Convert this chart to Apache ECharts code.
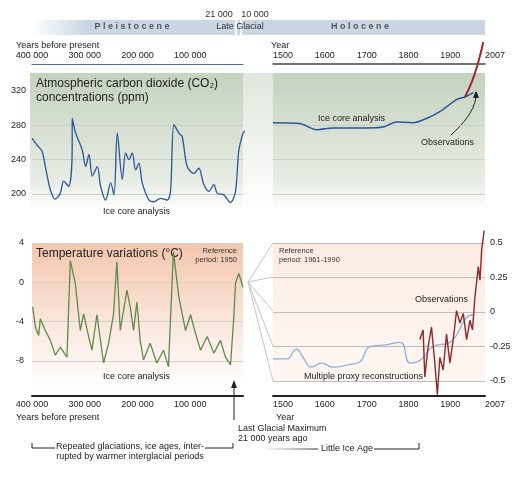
<!DOCTYPE html>
<html><head><meta charset="utf-8">
<script src="https://cdn.jsdelivr.net/npm/echarts@6/dist/echarts.min.js"></script>
<style>html,body{margin:0;padding:0;background:#fff}#c{width:530px;height:480px}</style>
</head><body><div id="c"></div>
<script>
// CO2, 400 000 years before present -> 0 (ppm)
const co2LongYears = [400000,390500,381000,374700,365200,355800,346300,340000,330500,324100,323500,317200,304600,298300,292000,285600,276200,269900,260400,250900,244600,238300,228800,222500,216200,209900,203600,197300,191000,178300,168900,156300,143700,137400,131000,121600,115300,105800,93200,83700,74200,64800,55300,49000,36400,23700,14200,7900,0];
const co2LongVals  = [265,257,250,232,205,194,201,215,209,242,288,271,251,232,246,221,232,209,193,213,199,271,217,248,240,248,228,236,213,193,191,195,193,203,281,271,267,232,224,230,211,203,211,201,199,190,203,251,271];
const co2GapYears = [0,-20000,-40000,-56900];
const co2GapVals  = [271,280,283,283];
// CO2 1500-2007 (ice core)
const co2Years = [1500,1564,1604,1644,1723,1763,1795,1835,1867,1899,1939,1959,1979];
const co2Vals  = [283,282,275,277,277,278,284,283,288,296,310,313,318];
const co2ObsYears = [1959,1975,1990,2003];
const co2ObsVals  = [313,330,352,377];
// Temperature, years before present (°C)
const tLongYears = [398700,393700,387400,384300,374700,365200,355800,346300,333700,327400,317900,308500,302200,292700,286400,276900,264300,254800,245400,239100,232700,220100,213800,207500,201200,194900,188600,176000,163400,150800,141300,131900,121600,108900,99500,90000,80600,67900,55300,42700,33200,23700,17400,14200,7900,0];
const tLongVals  = [-2.5,-4.5,-5.4,-3.7,-4.9,-5.9,-7.4,-6.6,-7.6,2.2,-0.1,-4.9,-3.2,-5.5,-6.9,-3.3,-8.2,-6.2,-3.2,2.1,-4.9,-0.8,-2.5,-4.9,-2.0,-5.9,-7.9,-6.2,-8.2,-6.9,-8.6,3.1,-1.5,-4.9,-3.3,-5.2,-6.9,-5.5,-7.2,-5.9,-7.6,-8.4,-3.5,-0.1,0.9,-0.5];
// Multiple proxy reconstructions 1500-2000 (°C rel. 1961-1990)
const proxyYears = [1500,1532,1556,1572,1592,1616,1644,1684,1708,1732,1764,1804,1828,1852,1883,1923,1963,1979];
const proxyVals  = [-0.34,-0.34,-0.27,-0.33,-0.40,-0.37,-0.40,-0.38,-0.36,-0.25,-0.24,-0.22,-0.37,-0.35,-0.25,-0.22,-0.04,-0.02];
// Observations 1850-2007
const obsYears = [1851,1859,1863,1871,1879,1887,1893,1899,1907,1915,1923,1931,1939,1947,1955,1963,1971,1977,1983,1991,1995,1999,2005];
const obsVals  = [-0.20,-0.13,-0.47,-0.25,-0.11,-0.37,-0.60,-0.33,-0.42,-0.16,-0.37,-0.20,0.01,-0.08,-0.01,-0.20,-0.06,-0.13,0.11,0.33,0.23,0.45,0.59];
const co2Ticks = [200,240,280,320];
const yearTicks = [1500,1600,1700,1800,1900,2007];

const z = (a,b)=>a.map((v,i)=>[v,b[i]]);
const fmtK = v => v===0?'':String(v).replace(/(\d)(?=(\d{3})+$)/,'$1 ');
const F = 'Liberation Sans, Arial, sans-serif';
const ch = echarts.init(document.getElementById('c'));
const lbl = {fontFamily:F,fontSize:9,color:'#222'};
const grids = [
  {left:32,top:91,width:211,height:103},
  {left:273,top:91,width:212,height:103},
  {left:32,top:243,width:211,height:118},
  {left:273,top:243,width:212,height:138}
];
const xLong = (gi,top,off,col,w)=>({type:'value',gridIndex:gi,min:0,max:400000,inverse:true,interval:100000,position:top?'top':'bottom',offset:off,
  axisLine:{show:true,onZero:false,lineStyle:{color:col,width:w}},axisTick:{show:false},splitLine:{show:false},
  axisLabel:Object.assign({},lbl,{formatter:fmtK,margin:4,align:'center'})});
const xYear = (gi,top,off,col,w)=>({type:'value',gridIndex:gi,min:1500,max:2007,position:top?'top':'bottom',offset:off,
  axisLine:{show:true,onZero:false,lineStyle:{color:col,width:w}},axisTick:{show:false},splitLine:{show:false},
  axisLabel:Object.assign({},lbl,{customValues:yearTicks,formatter:v=>String(v),margin:4,align:'left'})});
const opt = {
  animation:false,
  grid:grids,
  xAxis:[xLong(0,true,27,'#4a6aa8',1.2),xYear(1,true,27,'#444',1.5),xLong(2,false,35,'#222',2),xYear(3,false,15,'#222',2)],
  yAxis:[
    {type:'value',gridIndex:0,min:200,max:320,interval:40,axisLine:{show:false},axisTick:{show:false},axisLabel:Object.assign({},lbl,{margin:6}),splitLine:{lineStyle:{color:'#c9cfc6'}}},
    {type:'value',gridIndex:1,min:200,max:320,interval:40,axisLine:{show:false},axisTick:{show:false},axisLabel:{show:false},splitLine:{lineStyle:{color:'#c9cfc6'}}},
    {type:'value',gridIndex:2,min:-8,max:4,interval:4,axisLine:{show:false},axisTick:{show:false},axisLabel:Object.assign({},lbl,{margin:8}),splitLine:{lineStyle:{color:'#d6cfcb'}}},
    {type:'value',gridIndex:3,min:-0.5,max:0.5,interval:0.25,position:'right',axisLine:{show:false},axisTick:{show:false},axisLabel:Object.assign({},lbl,{margin:5}),splitLine:{lineStyle:{color:'#bdbdbd'}}}
  ],
  series:[
    {type:'line',xAxisIndex:0,yAxisIndex:0,data:z(co2LongYears,co2LongVals),symbol:'none',smooth:0.3,clip:false,lineStyle:{color:'#2c5696',width:1.3}},
    {type:'line',xAxisIndex:0,yAxisIndex:0,data:z(co2GapYears,co2GapVals),symbol:'none',smooth:true,clip:false,lineStyle:{color:'#2c5696',width:1.3,type:[4,3]}},
    {type:'line',xAxisIndex:1,yAxisIndex:1,data:z(co2Years,co2Vals),symbol:'none',smooth:0.3,clip:false,lineStyle:{color:'#2c5696',width:1.5}},
    {type:'line',xAxisIndex:1,yAxisIndex:1,data:z(co2ObsYears,co2ObsVals),symbol:'none',smooth:true,clip:false,lineStyle:{color:'#9b2a2a',width:2}},
    {type:'line',xAxisIndex:2,yAxisIndex:2,data:z(tLongYears,tLongVals),symbol:'none',clip:false,lineStyle:{color:'#5e8a4e',width:1.3}},
    {type:'line',xAxisIndex:3,yAxisIndex:3,data:z(proxyYears,proxyVals),symbol:'none',smooth:true,clip:false,lineStyle:{color:'#8fb2d6',width:1.3}},
    {type:'line',xAxisIndex:3,yAxisIndex:3,data:z(obsYears,obsVals),symbol:'none',clip:false,lineStyle:{color:'#8b2a2a',width:1.4}}
  ],
  graphic:[
    {type:'rect',z:-10,shape:{x:32,y:20,width:453,height:15},style:{fill:new echarts.graphic.LinearGradient(0,0,1,0,[{offset:0,color:'#fff'},{offset:0.12,color:'#c9d7e5'},{offset:1,color:'#c9d7e5'}])}},
    {type:'rect',z:-9,shape:{x:235,y:20,width:2,height:15},style:{fill:'#fff'}},
    {type:'rect',z:-9,shape:{x:240,y:20,width:2,height:15},style:{fill:'#fff'}},
    {type:'rect',z:-10,shape:{x:30,y:73,width:213,height:137},style:{fill:new echarts.graphic.LinearGradient(0,0,0,1,[{offset:0,color:'#c5d2bf'},{offset:0.8,color:'#e8ede5'},{offset:1,color:'#fff'}])}},
    {type:'rect',z:-10,shape:{x:243,y:73,width:30,height:137},style:{fill:new echarts.graphic.LinearGradient(0,0,0,1,[{offset:0,color:'#dfe6dc'},{offset:1,color:'#fff'}])}},
    {type:'rect',z:-10,shape:{x:273,y:73,width:212,height:137},style:{fill:new echarts.graphic.LinearGradient(0,0,0,1,[{offset:0,color:'#c5d2bf'},{offset:0.8,color:'#e8ede5'},{offset:1,color:'#fff'}])}},
    {type:'rect',z:-10,shape:{x:32,y:243,width:211,height:145},style:{fill:new echarts.graphic.LinearGradient(0,0,0,1,[{offset:0,color:'#f3c6ad'},{offset:0.6,color:'#fbe9e0'},{offset:1,color:'#fff'}])}},
    {type:'rect',z:-10,shape:{x:273,y:243,width:212,height:138},style:{fill:new echarts.graphic.LinearGradient(0,0,0,1,[{offset:0,color:'#fbebe3'},{offset:1,color:'#fff7f3'}])}},
    ...[243,277,311,346,381].map(y=>({type:'line',z:-5,shape:{x1:248,y1:282,x2:273,y2:y},style:{stroke:'#c4c4c4',lineWidth:1}})),
    {type:'text',x:132,y:27,style:{text:'P l e i s t o c e n e',font:'bold 9px '+F,fill:'#555',align:'center',verticalAlign:'middle'}},
    {type:'text',x:240,y:27,style:{text:'Late Glacial',font:'9px '+F,fill:'#333',align:'center',verticalAlign:'middle'}},
    {type:'text',x:360,y:27,style:{text:'H o l o c e n e',font:'bold 9px '+F,fill:'#555',align:'center',verticalAlign:'middle'}},
    {type:'text',x:219,y:15,style:{text:'21 000',font:'9px '+F,fill:'#333',align:'center',verticalAlign:'middle'}},
    {type:'text',x:255,y:15,style:{text:'10 000',font:'9px '+F,fill:'#333',align:'center',verticalAlign:'middle'}},
    {type:'text',x:16,y:46,style:{text:'Years before present',font:'9px '+F,fill:'#222',verticalAlign:'middle'}},
    {type:'text',x:271,y:46,style:{text:'Year',font:'9px '+F,fill:'#222',verticalAlign:'middle'}},
    {type:'text',x:36,y:91,style:{text:'Atmospheric carbon dioxide (CO₂)\nconcentrations (ppm)',font:'12px '+F,fill:'#222',verticalAlign:'middle',lineHeight:14}},
    {type:'text',x:103,y:207,style:{text:'Ice core analysis',font:'9px '+F,fill:'#222'}},
    {type:'text',x:318,y:114,style:{text:'Ice core analysis',font:'9px '+F,fill:'#222'}},
    {type:'text',x:421,y:138,style:{text:'Observations',font:'9px '+F,fill:'#222'}},
    {type:'bezierCurve',shape:{x1:451,y1:135,cpx1:462,cpy1:125,x2:476,y2:97,cpx2:474,cpy2:112},style:{stroke:'#222',lineWidth:1,fill:null}},
    {type:'polygon',shape:{points:[[476,90],[473,98],[479,98]]},style:{fill:'#222'}},
    {type:'text',x:36,y:254,style:{text:'Temperature variations (°C)',font:'12px '+F,fill:'#222',verticalAlign:'middle'}},
    {type:'text',x:237,y:246,style:{text:'Reference\nperiod: 1950',font:'7.5px '+F,fill:'#333',align:'right',lineHeight:9}},
    {type:'text',x:279,y:246,style:{text:'Reference\nperiod: 1961-1990',font:'7.5px '+F,fill:'#333',lineHeight:9}},
    {type:'text',x:103,y:372,style:{text:'Ice core analysis',font:'9px '+F,fill:'#222'}},
    {type:'text',x:304,y:372,style:{text:'Multiple proxy reconstructions',font:'9px '+F,fill:'#222'}},
    {type:'text',x:415,y:295,style:{text:'Observations',font:'9px '+F,fill:'#222'}},
    {type:'text',x:16,y:413,style:{text:'Years before present',font:'9px '+F,fill:'#222'}},
    {type:'text',x:276,y:413,style:{text:'Year',font:'9px '+F,fill:'#222'}},
    {type:'line',shape:{x1:234,y1:420,x2:234,y2:387},style:{stroke:'#222',lineWidth:1}},
    {type:'polygon',shape:{points:[[234,380],[231,388],[237,388]]},style:{fill:'#222'}},
    {type:'text',x:238,y:424,style:{text:'Last Glacial Maximum\n21 000 years ago',font:'9px '+F,fill:'#222',lineHeight:10}},
    {type:'polyline',shape:{points:[[32,443],[32,448],[55,448]]},style:{stroke:'#222',lineWidth:1}},
    {type:'polyline',shape:{points:[[205,448],[233,448],[233,443]]},style:{stroke:'#222',lineWidth:1}},
    {type:'text',x:130,y:442,style:{text:'Repeated glaciations, ice ages, inter-\nrupted by warmer interglacial periods',font:'9px '+F,fill:'#222',align:'center',lineHeight:10}},
    {type:'line',shape:{x1:264,y1:449,x2:318,y2:449},style:{stroke:new echarts.graphic.LinearGradient(0,0,1,0,[{offset:0,color:'#fff'},{offset:1,color:'#222'}]),lineWidth:1}},
    {type:'text',x:321,y:449,style:{text:'Little Ice Age',font:'9px '+F,fill:'#222',verticalAlign:'middle'}},
    {type:'polyline',shape:{points:[[374,449],[419,449],[419,443]]},style:{stroke:'#222',lineWidth:1}}
  ]
};
ch.setOption(opt);
</script></body></html>
